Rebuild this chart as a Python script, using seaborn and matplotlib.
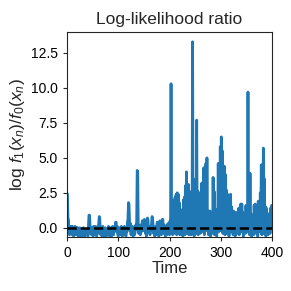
import numpy as np
import pandas as pd
import matplotlib
matplotlib.use("Agg")
import matplotlib.pyplot as plt
import seaborn as sns

# log-likelihood ratio per time step (20 values per row)
llr = [
    2.5, 2.4, 0.7, 0.6, -0.3, -0.5, 0.1, -0.4, 0.1, 0.0, -0.5, 0.1, -0.2, -0.6, 0.0, -0.3, 0.1, -0.5, -0.2, 0.0,
    -0.4, 0.0, -0.6, -0.2, -0.5, 0.0, -0.3, -0.6, -0.1, -0.4, -0.6, -0.2, 0.0, -0.5, -0.3, -0.6, -0.1, -0.4, -0.2, -0.5,
    -0.3, -0.6, 0.1, 0.9, 0.9, 0.2, -0.4, -0.2, -0.5, 0.0, -0.3, -0.6, 0.1, -0.2, -0.5, -0.4, 0.1, -0.3, -0.6, -0.2,
    -0.4, 0.0, 0.3, 0.8, 0.7, -0.1, -0.5, -0.2, -0.6, -0.3, 0.1, -0.5, -0.2, -0.6, -0.3, 0.0, -0.4, -0.6, -0.1, -0.3,
    -0.5, 0.1, -0.2, -0.6, -0.3, 0.0, -0.4, -0.6, -0.2, 0.1, -0.3, -0.5, 0.0, -0.2, 0.1, 0.4, 0.4, -0.3, 0.1, -0.4,
    -0.6, -0.2, 0.0, -0.4, -0.1, -0.5, 0.1, -0.3, -0.6, 0.0, -0.2, -0.5, 0.1, -0.4, -0.2, -0.6, 0.0, -0.3, 0.4, 0.6,
    1.8, 1.7, 0.5, -0.2, 0.3, -0.5, 0.0, -0.4, 0.1, -0.6, -0.2, 0.0, -0.5, -0.3, 0.2, -0.1, 0.5, 4.1, 4.0, 0.3,
    -0.4, -0.1, 0.0, -0.5, 0.2, -0.3, 0.1, 0.5, 0.4, -0.2, 0.5, 0.6, 0.3, -0.4, 0.0, -0.6, 0.2, 0.7, 0.6, -0.1,
    -0.3, 0.0, -0.5, 0.1, -0.2, 0.3, 0.8, 0.7, 0.2, -0.4, 0.0, -0.6, -0.2, 0.1, -0.5, 0.0, 0.4, 0.3, -0.3, -0.6,
    0.1, 0.5, 0.4, -0.2, -0.5, 0.0, 0.6, 0.6, -0.1, -0.4, 0.2, -0.3, -0.6, 0.0, -0.2, -0.5, 0.1, 0.3, -0.4, 0.2,
    -0.5, 0.5, -0.3, 10.3, -0.4, 1.5, -0.5, 1.0, 0.2, 2.0, -0.4, 2.2, 0.3, 2.4, -0.5, 2.5, -0.2, 2.4, 0.4, 1.8,
    -0.5, 1.2, -0.3, 1.1, 0.2, 1.3, -0.6, 2.0, -0.2, 2.2, -0.5, 3.0, 0.1, 4.0, -0.4, 2.2, 0.3, 3.1, -0.5, 2.6,
    0.2, 1.4, -0.5, 1.0, 0.4, 13.3, -0.3, 0.6, -0.6, 1.0, 0.2, 3.5, -0.4, 7.7, 0.3, 2.6, -0.5, 2.2, 0.1, 2.5,
    -0.4, 2.0, 0.4, 3.2, -0.3, 2.2, 0.5, 4.3, -0.5, 2.2, 0.2, 4.6, -0.2, 5.0, 0.3, 1.2, -0.5, 1.0, 0.0, 1.2,
    -0.6, 1.0, 0.2, 1.1, -0.4, 3.6, 0.1, 2.6, -0.5, 1.0, 0.3, 1.1, -0.6, 1.3, 0.2, 4.6, -0.3, 3.0, 0.5, 5.8,
    -0.2, 6.5, 0.6, 5.5, -0.4, 4.4, 0.3, 4.4, -0.5, 3.8, 0.2, 2.7, -0.4, 2.4, 0.4, 2.3, -0.6, 1.9, 0.1, 2.4,
    -0.3, 1.5, 0.2, 1.2, -0.5, 1.2, 0.3, 1.0, -0.6, 1.1, 0.0, 0.9, -0.4, 1.1, 0.2, 1.4, -0.5, 1.2, 0.1, 1.7,
    -0.3, 1.7, 0.3, 1.1, -0.6, 1.0, 0.0, 0.5, -0.4, 1.6, 0.2, 1.2, -0.3, 9.7, 0.4, 2.0, -0.5, 3.9, 0.1, 1.0,
    -0.6, 0.5, -0.2, 0.3, -0.5, 1.6, 0.2, 1.7, -0.4, 1.6, 0.3, 1.5, -0.6, 1.9, 0.0, 1.9, -0.3, 2.5, 0.4, 4.5,
    -0.5, 4.5, 0.2, 5.7, -0.4, 3.5, 0.3, 1.5, -0.6, 1.4, 0.1, 0.8, -0.5, 1.0, 0.2, 0.9, -0.4, 1.4, 0.0, 1.6,
]
time = list(range(len(llr)))
threshold = 0.0

xticks = [0, 100, 200, 300, 400]
yticks = [0.0, 2.5, 5.0, 7.5, 10.0, 12.5]

sns.set_style("ticks")
plt.rcParams['font.family'] = ['Liberation Sans', 'DejaVu Sans']
plt.rcParams['mathtext.fontset'] = 'custom'
plt.rcParams['mathtext.rm'] = 'Liberation Sans'
plt.rcParams['mathtext.it'] = 'Liberation Sans:italic'

df = pd.DataFrame({"Time": time, "llr": llr})

fig = plt.figure(figsize=(2.91, 2.91), dpi=100)
ax = fig.add_axes([0.230, 0.186, 0.705, 0.704])
sns.lineplot(data=df, x="Time", y="llr", color="#1f77b4", linewidth=2.0, ax=ax)
ax.axhline(threshold, color="black", linestyle="--", linewidth=1.8, zorder=3)

ax.set_xlim(0, 400)
ax.set_ylim(-0.65, 14.0)
ax.set_xticks(xticks)
ax.set_yticks(yticks)
ax.tick_params(labelsize=10, length=3, labelcolor="black")
ax.set_title("Log-likelihood ratio", fontsize=12.5)
ax.set_xlabel("Time", fontsize=12, labelpad=1)
ax.set_ylabel(r"log $f_1(x_n)/f_0(x_n)$", fontsize=12.5, labelpad=3)

fig.savefig("out.png", dpi=100)
